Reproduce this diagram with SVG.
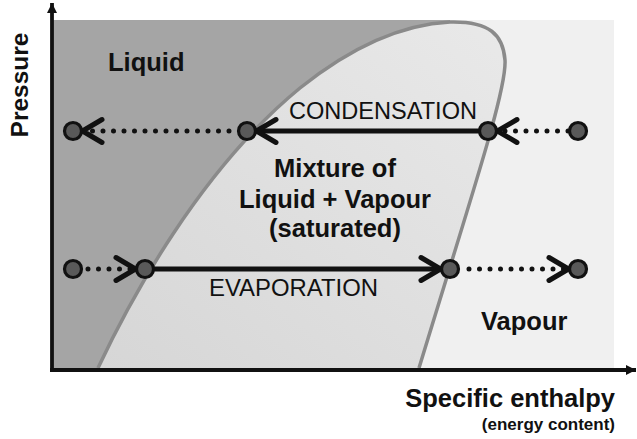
<svg xmlns="http://www.w3.org/2000/svg" width="637" height="439" viewBox="0 0 637 439">
  <defs>
    <linearGradient id="domeGrad" x1="0" y1="1" x2="1" y2="0">
      <stop offset="0" stop-color="#d6d6d6"/>
      <stop offset="1" stop-color="#e9e9e9"/>
    </linearGradient>
    <marker id="chev" markerUnits="userSpaceOnUse" orient="auto" refX="0" refY="0" markerWidth="40" markerHeight="40" viewBox="-40 -20 40 40" overflow="visible">
      <path d="M-29,-11.5 L-9.5,0 L-29,11.5" fill="none" stroke="#111" stroke-width="5" stroke-linecap="round" stroke-linejoin="round"/>
    </marker>
    <marker id="axhead" markerUnits="userSpaceOnUse" orient="auto" refX="0" refY="0" markerWidth="20" markerHeight="20" viewBox="-12 -10 20 20" overflow="visible">
      <path d="M0,0 L-10,-5 L-10,5 Z" fill="#111"/>
    </marker>
  </defs>
  <style>
    .node { fill: #595959; stroke: #111; stroke-width: 3.2; }
    .solid { stroke: #111; stroke-width: 5; fill: none; marker-end: url(#chev); }
    .dotted { stroke: #111; stroke-width: 5; fill: none; stroke-dasharray: 0 10.5; stroke-linecap: round; marker-end: url(#chev); }
    .axis { stroke: #111; stroke-width: 3.8; fill: none; marker-end: url(#axhead); }
    .bold { font-family: "Liberation Sans", Arial, sans-serif; font-weight: bold; fill: #111; }
    .reg { font-family: "Liberation Sans", Arial, sans-serif; font-weight: normal; fill: #111; }
  </style>

  <g id="background">
    <rect x="53" y="20" width="561" height="348" fill="#f0f0f0"/>
    <path d="M53,20 L450,20 L450,22 C410,24 360,40 300,88 C200,170 130,300 98,368 L53,368 Z" fill="#a5a5a5"/>
    <path d="M98,368 C130,300 200,170 300,88 C360,40 410,24 450,22 C490,21 503,35 505,60 C507,90 470,200 419,368 Z" fill="url(#domeGrad)"/>
    <path id="dome" d="M98,368 C130,300 200,170 300,88 C360,40 410,24 450,22 C490,21 503,35 505,60 C507,90 470,200 419,368" fill="none" stroke="#8a8a8a" stroke-width="3.5"/>
  </g>

  <g id="axes">
    <line class="axis" x1="52" y1="372" x2="52" y2="3"/>
    <line class="axis" x1="50" y1="370" x2="636" y2="370"/>
  </g>

  <g id="labels">
    <text class="bold" x="108" y="71" font-size="25.5">Liquid</text>
    <text class="bold" x="481" y="330" font-size="25.5">Vapour</text>
    <text class="bold" x="335" y="177" font-size="25.5" text-anchor="middle">Mixture of</text>
    <text class="bold" x="335" y="208" font-size="25.5" text-anchor="middle">Liquid + Vapour</text>
    <text class="bold" x="335" y="237" font-size="25.5" text-anchor="middle">(saturated)</text>
    <text class="reg" x="289" y="119" font-size="23" textLength="188" lengthAdjust="spacingAndGlyphs">CONDENSATION</text>
    <text class="reg" x="209" y="296" font-size="23.2" textLength="169" lengthAdjust="spacingAndGlyphs">EVAPORATION</text>
    <text class="bold" x="615" y="407" font-size="25.5" text-anchor="end">Specific enthalpy</text>
    <text class="bold" x="615" y="430" font-size="17" text-anchor="end">(energy content)</text>
    <text class="bold" transform="translate(28,85) rotate(-90)" font-size="24.5" text-anchor="middle">Pressure</text>
  </g>

  <g id="connectors">
    <line class="dotted" x1="568" y1="131" x2="488" y2="131"/>
    <line class="solid" x1="488" y1="131" x2="247" y2="131"/>
    <line class="dotted" x1="229" y1="131" x2="73" y2="131"/>
    <line class="dotted" x1="88" y1="269" x2="145" y2="269"/>
    <line class="solid" x1="145" y1="269" x2="450" y2="269"/>
    <line class="dotted" x1="469" y1="269" x2="578" y2="269"/>
  </g>

  <g id="node-c1"><circle class="node" cx="578" cy="131" r="8.5"/></g>
  <g id="node-c2"><circle class="node" cx="488" cy="131" r="8.5"/></g>
  <g id="node-c3"><circle class="node" cx="247" cy="131" r="8.5"/></g>
  <g id="node-c4"><circle class="node" cx="73" cy="131" r="8.5"/></g>
  <g id="node-e1"><circle class="node" cx="73" cy="269" r="8.5"/></g>
  <g id="node-e2"><circle class="node" cx="145" cy="269" r="8.5"/></g>
  <g id="node-e3"><circle class="node" cx="450" cy="269" r="8.5"/></g>
  <g id="node-e4"><circle class="node" cx="578" cy="269" r="8.5"/></g>
</svg>
